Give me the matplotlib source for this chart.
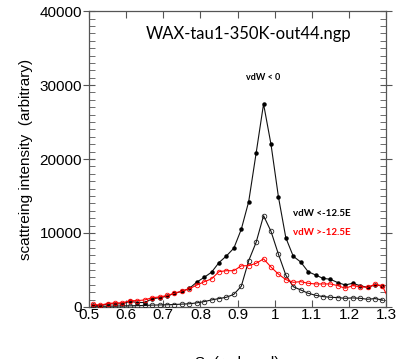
import numpy as np
import matplotlib
matplotlib.use("Agg")
import matplotlib.pyplot as plt
from matplotlib.ticker import MultipleLocator

plt.rcParams['font.family'] = ['Liberation Sans', 'DejaVu Sans']

s = [0.51, 0.53, 0.55, 0.57, 0.59, 0.61, 0.63, 0.65, 0.67, 0.69,
     0.71, 0.73, 0.75, 0.77, 0.79, 0.81, 0.83, 0.85, 0.87, 0.89,
     0.91, 0.93, 0.95, 0.97, 0.99, 1.01, 1.03, 1.05, 1.07, 1.09,
     1.11, 1.13, 1.15, 1.17, 1.19, 1.21, 1.23, 1.25, 1.27, 1.29]

vdw_lt0 = [300, 150, 420, 420, 420, 760, 600, 600, 1100, 1250,
           1450, 1850, 2100, 2500, 3350, 4000, 4700, 6000, 6900, 7950,
           10500, 14250, 20800, 27450, 22000, 14900, 9350, 6850, 6080, 4770,
           4320, 3870, 3740, 3290, 2970, 3200, 2880, 2650, 2970, 2880]

vdw_lt125 = [100, 80, 100, 120, 150, 150, 180, 200, 250, 270,
             300, 330, 380, 430, 550, 720, 950, 1130, 1310, 1710,
             2800, 6260, 8740, 12340, 10230, 7140, 4300, 2740, 2300, 1850,
             1580, 1400, 1310, 1260, 1170, 1220, 1170, 1040, 1130, 950]

s_red = s + [1.31]
vdw_gt125 = [350, 250, 450, 550, 550, 850, 850, 950, 1250, 1350,
             1550, 1850, 2150, 2450, 2950, 3400, 3800, 4770, 4900, 4900,
             5560, 5580, 5900, 6500, 5400, 4440, 3700, 3330, 3420, 3200,
             3110, 3110, 3110, 2880, 2520, 2880, 2740, 2650, 3060, 2830, 800]

fig = plt.figure(figsize=(4.03, 3.59), dpi=100)
ax = fig.add_axes([0.221, 0.145, 0.737, 0.824])

ax.plot(s, vdw_lt0, color="#111111", lw=0.8, marker="o", ms=2.2,
        mfc="black", mec="black", zorder=3)
ax.plot(s, vdw_lt125, color="#111111", lw=0.8, marker="o", ms=3.3,
        mfc="none", mec="#222222", mew=0.6, zorder=3)
ax.plot(s_red, vdw_gt125, color="red", lw=0.8, marker="o", ms=3.3,
        mfc="none", mec="red", mew=0.6, zorder=3, clip_on=True)

ax.set_xlim(0.5, 1.3)
ax.set_ylim(0, 40000)
ax.yaxis.set_minor_locator(MultipleLocator(1000))
ax.set_xticks([0.5, 0.6, 0.7, 0.8, 0.9, 1.0, 1.1, 1.2, 1.3])
ax.set_xticklabels(["0.5", "0.6", "0.7", "0.8", "0.9", "1", "1.1", "1.2", "1.3"])
ax.set_yticks([0, 10000, 20000, 30000, 40000])
ax.set_yticklabels(["0", "10000", "20000", "30000", "40000"])

ax.tick_params(axis="x", which="major", direction="in", length=5, width=0.8,
               top=True, labelsize=11, pad=1, colors="#555555", labelcolor="black")
ax.tick_params(axis="y", which="major", direction="inout", length=8, width=0.8,
               right=True, labelsize=11, pad=1, colors="#555555", labelcolor="black")
ax.tick_params(axis="y", which="minor", direction="in", length=4, width=0.6,
               right=True, colors="#555555")
for sp in ax.spines.values():
    sp.set_color("#555555")
    sp.set_linewidth(0.9)

ax.set_xlabel("S  (reduced)", fontsize=11, labelpad=24)
ax.set_ylabel("scattreing intensity  (arbitrary)", fontsize=11, labelpad=5)

ax.text(0.652, 36900, "WAX-tau1-350K-out44.ngp", fontsize=12,
        family=["Lato", "DejaVu Sans"], va="center", ha="left")
ax.text(0.97, 31000, "vdW < 0", fontsize=6.5, fontweight="bold",
        family=["Lato", "DejaVu Sans"], ha="center", va="center")
ax.text(1.05, 12700, "vdW <-12.5E", fontsize=7, fontweight="bold",
        family=["Lato", "DejaVu Sans"], ha="left", va="center", color="black")
ax.text(1.05, 10000, "vdW >-12.5E", fontsize=7, fontweight="bold",
        family=["Lato", "DejaVu Sans"], ha="left", va="center", color="red")

fig.savefig("out.png", dpi=100)
